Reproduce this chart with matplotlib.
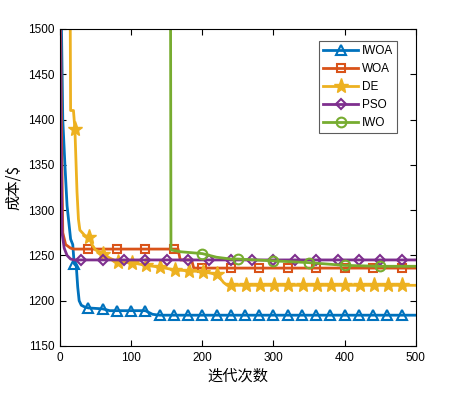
import numpy as np
import matplotlib.pyplot as plt

plt.rcParams['font.family'] = ['Liberation Sans', 'Noto Sans CJK SC', 'DejaVu Sans']

# convergence curves (iteration, cost)
iwoa_it = [0, 4, 7, 10, 15, 18, 20, 23, 25, 27, 30, 35, 40, 60, 70, 80, 100, 120, 130, 140,
           160, 180, 200, 220, 240, 260, 280, 300, 320, 340, 360, 380, 400, 420, 440, 460, 480, 500]
iwoa_val = [1620, 1400, 1350, 1305, 1268, 1262, 1241, 1238, 1215, 1200, 1195, 1193, 1192, 1191, 1189, 1189, 1189, 1189, 1185, 1184,
            1184, 1184, 1184, 1184, 1184, 1184, 1184, 1184, 1184, 1184, 1184, 1184, 1184, 1184, 1184, 1184, 1184, 1184]

woa_it = [0, 2, 4, 8, 15, 20, 40, 80, 120, 160, 166, 169, 185, 188, 200, 240, 280, 320, 360, 400, 440, 480, 500]
woa_val = [1600, 1400, 1275, 1262, 1258, 1257, 1257, 1257, 1257, 1257, 1257, 1245, 1245, 1236, 1236, 1236, 1236, 1236, 1236, 1236, 1236, 1236, 1236]

de_it = [0, 14, 15, 19, 21, 24, 26, 28, 35, 41, 45, 50, 61, 70, 81, 101, 121, 141, 161, 181, 201, 221, 230, 235,
         241, 261, 281, 301, 321, 341, 361, 381, 401, 421, 441, 461, 481, 500]
de_val = [1600, 1600, 1410, 1410, 1390, 1320, 1290, 1278, 1272, 1270, 1262, 1256, 1252, 1247, 1243, 1242, 1239, 1237, 1234, 1233, 1232, 1229, 1220, 1217,
          1217, 1217, 1217, 1217, 1217, 1217, 1217, 1217, 1217, 1217, 1217, 1217, 1217, 1217]

pso_it = [0, 1, 3, 6, 10, 15, 20, 30, 60, 90, 120, 150, 180, 210, 240, 270, 300, 330, 360, 390, 420, 450, 480, 500]
pso_val = [1600, 1400, 1275, 1258, 1250, 1246, 1245, 1245, 1245, 1245, 1245, 1245, 1245, 1245, 1245, 1245, 1245, 1245, 1245, 1245, 1245, 1245, 1245, 1245]

iwo_it = [0, 50, 100, 150, 155, 156, 170, 200, 220, 240, 250, 300, 350, 400, 450, 500]
iwo_val = [1700, 1700, 1700, 1700, 1700, 1256, 1254, 1252, 1248, 1246, 1246, 1244, 1242, 1239, 1238, 1238]

series = [
    ('IWOA', iwoa_it, iwoa_val, '^', '#0072BD', range(20, 500, 20), 7),
    ('WOA', woa_it, woa_val, 's', '#D95319', range(40, 500, 40), 5.5),
    ('DE', de_it, de_val, '*', '#EDB120', range(21, 500, 20), 11),
    ('PSO', pso_it, pso_val, 'D', '#7E2F8E', range(30, 500, 30), 5.5),
    ('IWO', iwo_it, iwo_val, 'o', '#77AC30', range(50, 500, 50), 7),
]

fig = plt.figure(figsize=(4.61, 3.97), dpi=100)
ax = fig.add_axes([0.130, 0.1285, 0.772, 0.7985])

for name, it, val, mk, col, marks, ms in series:
    idx = [i for i, x in enumerate(it) if x in set(marks)]
    if mk == '*':
        ax.plot(it, val, color=col, lw=2, marker=mk, markevery=idx, ms=ms,
                mfc=col, mec=col, label=name)
    else:
        ax.plot(it, val, color=col, lw=2, marker=mk, markevery=idx, ms=ms,
                mfc='none', mec=col, mew=1.5, label=name)

ax.set_xlim(0, 500)
ax.set_ylim(1150, 1500)
ax.set_xticks([0, 100, 200, 300, 400, 500])
ax.set_yticks(np.arange(1150, 1501, 50))
ax.tick_params(direction='in', top=True, right=True, labelsize=8.5, length=4, pad=4)

ax.set_xlabel('迭代次数', fontsize=11, family=['Noto Sans CJK SC', 'DejaVu Sans'], labelpad=3)
ax.set_ylabel('成本/$', fontsize=11, family=['Noto Sans CJK SC', 'DejaVu Sans'], labelpad=4)

leg = ax.legend(loc='upper right', bbox_to_anchor=(0.948, 0.962), fontsize=8.5,
                fancybox=False, edgecolor='#333333', handlelength=3.0,
                borderpad=0.35, labelspacing=0.5, handletextpad=0.3, borderaxespad=0)
leg.get_frame().set_linewidth(0.8)

fig.savefig('out.png', dpi=100)
